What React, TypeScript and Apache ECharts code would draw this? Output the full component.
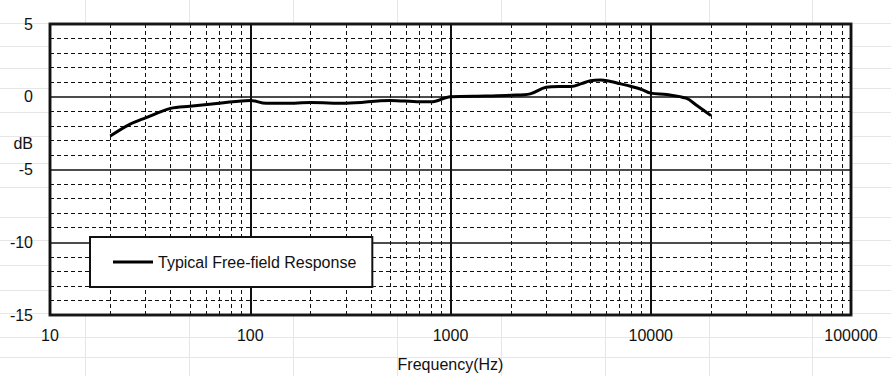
import React, { useEffect, useRef } from "react";
import * as echarts from "echarts";

// Frequency response data (Hz, dB)
const freqs = [20, 25, 30, 40, 50, 70, 100, 120, 150, 200, 300, 500, 700, 800, 1000, 1500, 2000, 2500, 3000, 3500, 4000, 4500, 5000, 5600, 6300, 7000, 8000, 9000, 10000, 12000, 15000, 17000, 20000];
const dbValues = [-2.7, -1.9, -1.45, -0.8, -0.65, -0.45, -0.25, -0.45, -0.45, -0.4, -0.45, -0.25, -0.35, -0.35, 0, 0.05, 0.1, 0.2, 0.65, 0.7, 0.7, 0.9, 1.1, 1.15, 1.05, 0.9, 0.7, 0.5, 0.25, 0.15, -0.1, -0.6, -1.3];

const seriesName = "Typical Free-field Response";
const yAxisTitle = "dB";
const xAxisTitle = "Frequency(Hz)";
const decades = [10, 100, 1000, 10000];
const minorMultipliers = [2, 3, 4, 5, 6, 7, 8, 9];
const minorFreqs = decades.flatMap((d) => minorMultipliers.map((m) => d * m));

// Spreadsheet cell lines behind the chart (page decoration)
const sheetCols = [85, 189, 293, 397, 501, 605, 709, 812];
const sheetRows = [23, 46, 68, 88, 112, 136, 163, 187, 217, 240, 265, 290, 313, 337, 357];

const FONT = "'Liberation Sans', Arial, sans-serif";

export default function App() {
  const ref = useRef<HTMLDivElement>(null);
  useEffect(() => {
    if (!ref.current) return;
    const chart = echarts.init(ref.current, undefined, { renderer: "svg" });
    const W = 891;
    const H = 376;
    const graphics: any[] = [];
    sheetCols.forEach((x) =>
      graphics.push({ type: "line", z: -1, silent: true, shape: { x1: x + 0.5, y1: 0, x2: x + 0.5, y2: H }, style: { stroke: "#e6e6e6", lineWidth: 1 } })
    );
    sheetRows.forEach((y) =>
      graphics.push({ type: "line", z: -1, silent: true, shape: { x1: 0, y1: y + 0.5, x2: W, y2: y + 0.5 }, style: { stroke: "#e6e6e6", lineWidth: 1 } })
    );
    graphics.push({
      type: "text",
      z: 5,
      x: 33,
      y: 143,
      style: { text: yAxisTitle, fontSize: 16, fontFamily: FONT, fill: "#111", align: "right", verticalAlign: "middle" },
    });
    chart.setOption({
      animation: false,
      backgroundColor: "#ffffff",
      textStyle: { fontFamily: FONT },
      graphic: graphics,
      grid: {
        left: 50,
        top: 24,
        right: 40,
        bottom: 61,
        show: true,
        backgroundColor: "#ffffff",
        borderColor: "#2b2b2b",
        borderWidth: 3,
        containLabel: false,
        outerBoundsMode: "none",
      },
      legend: {
        show: true,
        left: 90,
        top: 237,
        z: 20,
        orient: "horizontal",
        backgroundColor: "#ffffff",
        borderColor: "#111",
        borderWidth: 2,
        borderRadius: 0,
        padding: [17, 16, 17, 23],
        itemWidth: 40,
        itemHeight: 3,
        icon: "rect",
        itemStyle: { color: "#000" },
        textStyle: { fontSize: 16, color: "#111", fontFamily: FONT },
        data: [{ name: seriesName }],
      },
      xAxis: {
        type: "log",
        logBase: 10,
        min: 10,
        max: 100000,
        axisLine: { show: false },
        axisTick: { show: false },
        axisLabel: {
          fontSize: 16,
          color: "#111",
          fontFamily: FONT,
          margin: 12,
          formatter: (v: number) => String(Math.round(v)),
        },
        splitLine: { show: true, lineStyle: { color: "#111", width: 2, type: "solid" } },
        name: xAxisTitle,
        nameLocation: "middle",
        nameGap: 41,
        nameMoveOverlap: false,
        nameTextStyle: { fontSize: 16, color: "#111", fontFamily: FONT },
      },
      yAxis: {
        type: "value",
        min: -15,
        max: 5,
        interval: 5,
        axisLine: { show: false },
        axisTick: { show: false },
        axisLabel: { fontSize: 16, color: "#111", fontFamily: FONT, margin: 17 },
        splitLine: { show: true, lineStyle: { color: "#111", width: 1.5, type: "solid" } },
        minorTick: { show: false, splitNumber: 5 },
        minorSplitLine: { show: true, lineStyle: { color: "#111", width: 1, type: [4, 3] } },
      },
      series: [
        {
          name: seriesName,
          type: "line",
          data: freqs.map((f, i) => [f, dbValues[i]]),
          smooth: 0.35,
          symbol: "none",
          lineStyle: { color: "#000", width: 3 },
          itemStyle: { color: "#000" },
          z: 3,
          markLine: {
            silent: true,
            symbol: ["none", "none"],
            label: { show: false },
            lineStyle: { color: "#111", width: 1, type: [4, 3] },
            emphasis: { disabled: true },
            data: minorFreqs.map((f) => ({ xAxis: f })),
          },
        },
      ],
    });
    return () => chart.dispose();
  }, []);
  return <div ref={ref} style={{ position: "fixed", left: 0, top: 0, width: 891, height: 376 }} />;
}
